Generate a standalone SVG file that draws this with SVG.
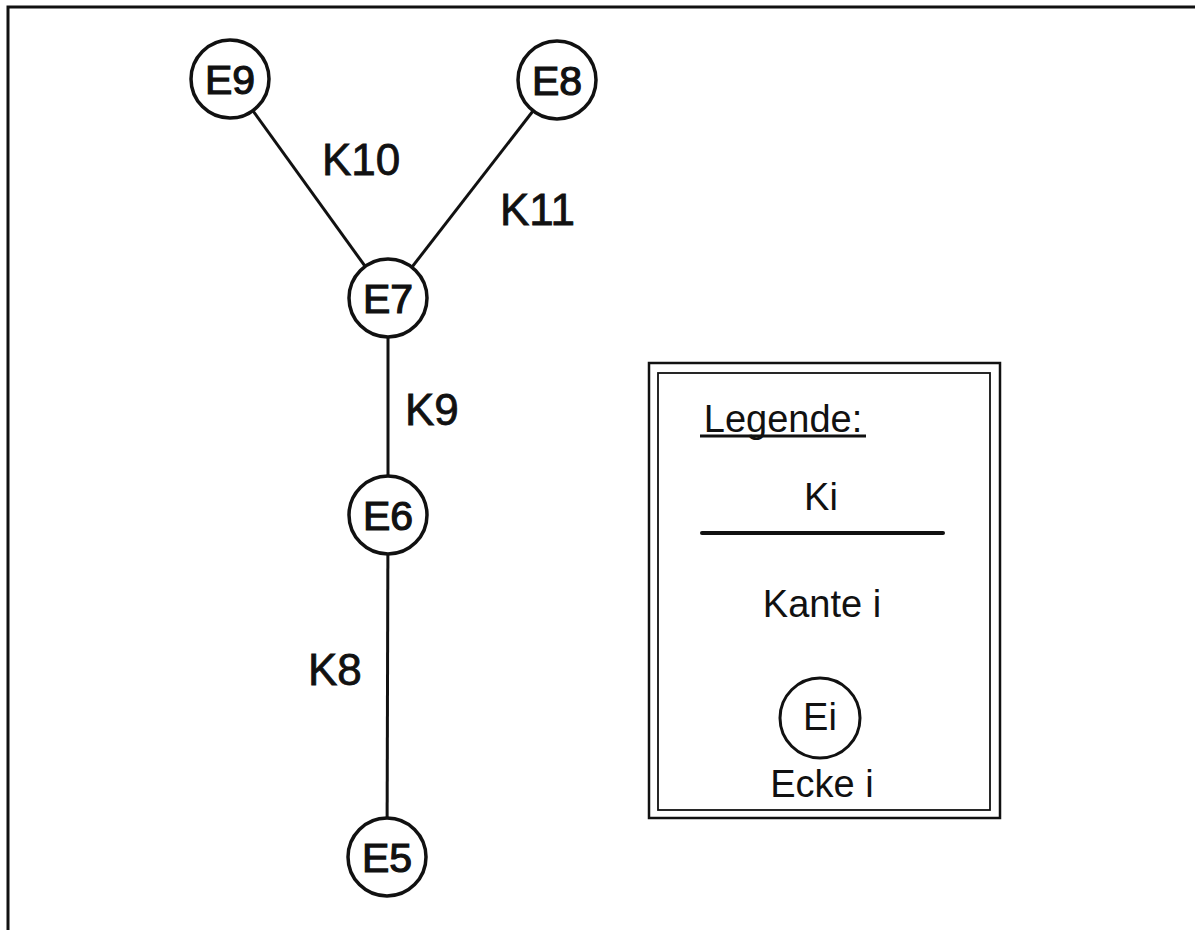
<svg xmlns="http://www.w3.org/2000/svg" width="1195" height="930" viewBox="0 0 1195 930">
<style>
.node{fill:#fff;stroke:#111;stroke-width:3.5}
.nl{font-family:"Liberation Sans",Arial,sans-serif;font-size:41px;fill:#111;stroke:#111;stroke-width:1.2;text-anchor:middle}
.el{font-family:"Liberation Sans",Arial,sans-serif;font-size:44px;fill:#111;stroke:#111;stroke-width:0.8}
.edge{stroke:#111;stroke-width:3;fill:none}
.lg{font-family:"Liberation Sans",Arial,sans-serif;font-size:38px;fill:#111;text-anchor:middle}
</style>
<rect width="1195" height="930" fill="#fff"/>
<path d="M8 930 V7 H1195" fill="none" stroke="#111" stroke-width="3"/>
<g id="connectors">
<line class="edge" x1="230" y1="79" x2="388" y2="298"/>
<line class="edge" x1="557" y1="80" x2="388" y2="298"/>
<line class="edge" x1="388" y1="298" x2="388" y2="515"/>
<line class="edge" x1="388" y1="515" x2="387" y2="857"/>
<text class="el" x="322" y="175">K10</text>
<text class="el" x="500" y="225">K11</text>
<text class="el" x="405" y="425">K9</text>
<text class="el" x="308" y="685">K8</text>
</g>
<g id="E9"><circle class="node" cx="230" cy="79" r="39"/><text class="nl" x="230" y="94">E9</text></g>
<g id="E8"><circle class="node" cx="557" cy="80" r="39"/><text class="nl" x="557" y="95">E8</text></g>
<g id="E7"><circle class="node" cx="388" cy="298" r="39"/><text class="nl" x="388" y="313">E7</text></g>
<g id="E6"><circle class="node" cx="388" cy="515" r="39"/><text class="nl" x="388" y="530">E6</text></g>
<g id="E5"><circle class="node" cx="387" cy="857" r="39"/><text class="nl" x="387" y="872">E5</text></g>
<g id="legend">
<rect x="649" y="363" width="351" height="455" fill="none" stroke="#111" stroke-width="2.5"/>
<rect x="658" y="373" width="332" height="437" fill="none" stroke="#111" stroke-width="1.8"/>
<text class="lg" x="783" y="432" font-size="39">Legende:</text>
<line x1="700" y1="436" x2="866" y2="436" stroke="#111" stroke-width="3"/>
<text class="lg" x="821" y="510">Ki</text>
<line x1="702" y1="533" x2="943" y2="533" stroke="#111" stroke-width="4" stroke-linecap="round"/>
<text class="lg" x="822" y="617">Kante i</text>
<circle cx="820" cy="718" r="40" fill="none" stroke="#111" stroke-width="3"/>
<text class="lg" x="820" y="730" font-size="31">Ei</text>
<text class="lg" x="822" y="797">Ecke i</text>
</g>
</svg>
